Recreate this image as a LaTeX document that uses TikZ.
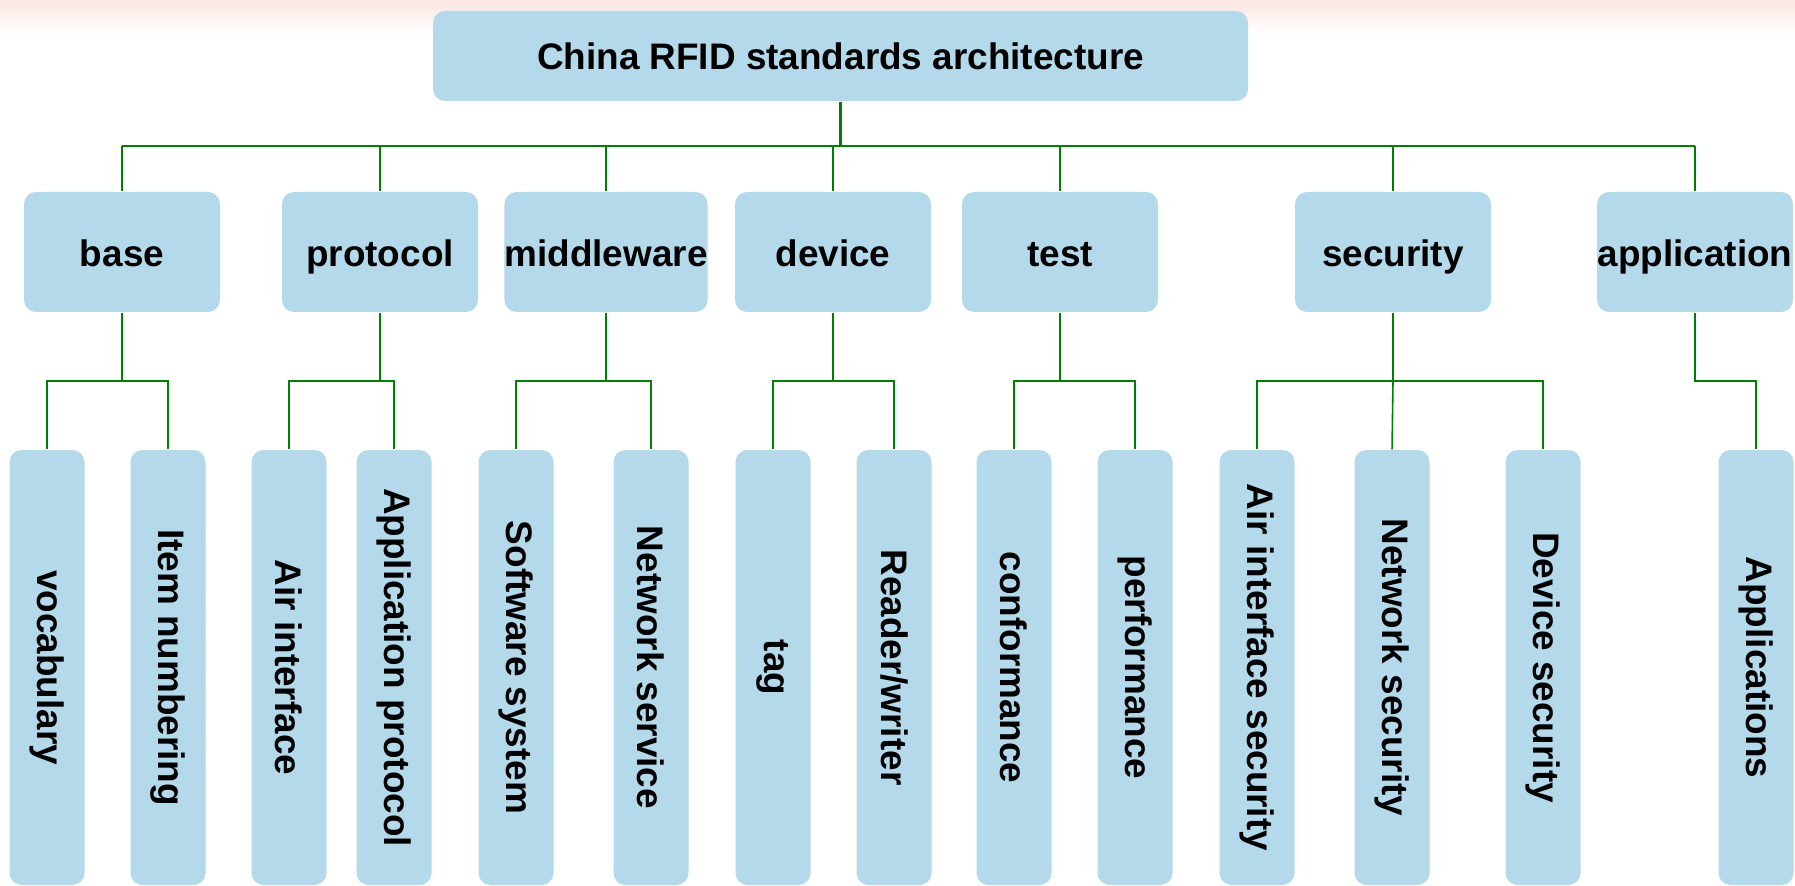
\documentclass[tikz,border=0pt]{standalone}
\usepackage{fontspec}
\usepackage{graphicx}
\setmainfont{Liberation Sans}
\definecolor{boxblue}{RGB}{179,217,234}
\definecolor{linkgreen}{RGB}{0,128,0}
\definecolor{topblush}{RGB}{251,230,226}
\tikzset{
  stdbox/.style={fill=boxblue, rounded corners=1.2mm, inner sep=0pt,
    font=\fontsize{10.5}{12}\selectfont\bfseries},
  rootbox/.style={stdbox, minimum width=81.5mm, minimum height=9mm},
  partbox/.style={stdbox, minimum width=19.6mm, minimum height=12mm,
    text height=0.95em, text depth=0.15em},
  leafbox/.style={stdbox, minimum width=7.5mm, minimum height=43.5mm},
  trunk/.style={draw=linkgreen, line width=0.6pt},
  link/.style={draw=linkgreen, line width=0.45pt}
}
\begin{document}
\begin{tikzpicture}[x=0.1mm,y=0.1mm]
\useasboundingbox (0,0) rectangle (1795,885);
\shade[top color=topblush, bottom color=white] (0,850) rectangle (1795,885);

\node[rootbox] (root) at (840.5,829) {China RFID standards architecture};

\node[partbox] (base) at (122,633) {base};
\node[partbox] (prot) at (380,633) {protocol};
\node[partbox] (midw) at (606,633) {middleware};
\node[partbox] (dev) at (833,633) {device};
\node[partbox] (test) at (1060,633) {test};
\node[partbox] (sec) at (1393,633) {security};
\node[partbox] (app) at (1695,633) {application};

\node[leafbox] (voc) at (47,217.5) {\rotatebox{-90}{vocabulary}};
\node[leafbox] (item) at (168,217.5) {\rotatebox{-90}{Item numbering}};
\node[leafbox] (air) at (289,217.5) {\rotatebox{-90}{Air interface}};
\node[leafbox] (approt) at (394,217.5) {\rotatebox{-90}{Application protocol}};
\node[leafbox] (soft) at (516,217.5) {\rotatebox{-90}{Software system}};
\node[leafbox] (netsrv) at (651,217.5) {\rotatebox{-90}{Network service}};
\node[leafbox] (tag) at (773,217.5) {\rotatebox{-90}{tag}};
\node[leafbox] (rw) at (894,217.5) {\rotatebox{-90}{Reader/writer}};
\node[leafbox] (conf) at (1014,217.5) {\rotatebox{-90}{conformance}};
\node[leafbox] (perf) at (1135,217.5) {\rotatebox{-90}{performance}};
\node[leafbox] (airsec) at (1257,217.5) {\rotatebox{-90}{Air interface security}};
\node[leafbox] (netsec) at (1392,217.5) {\rotatebox{-90}{Network security}};
\node[leafbox] (devsec) at (1543,217.5) {\rotatebox{-90}{Device security}};
\node[leafbox] (apps) at (1756,217.5) {\rotatebox{-90}{Applications}};

\coordinate (bus) at (0,739);
\coordinate (sub) at (0,504);

% top level
\path[trunk] (root.south) -- (root.south |- bus);
\path[trunk] (base.north |- bus) -- (app.north |- bus);
\path[link] (base.north |- bus) -- (base.north);
\path[link] (prot.north |- bus) -- (prot.north);
\path[link] (midw.north |- bus) -- (midw.north);
\path[link] (dev.north |- bus) -- (dev.north);
\path[link] (test.north |- bus) -- (test.north);
\path[link] (sec.north |- bus) -- (sec.north);
\path[link] (app.north |- bus) -- (app.north);

% second level
\path[link] (base.south) -- (base.south |- sub) -| (voc.north);
\path[link] (base.south |- sub) -| (item.north);
\path[link] (prot.south) -- (prot.south |- sub) -| (air.north);
\path[link] (prot.south |- sub) -| (approt.north);
\path[link] (midw.south) -- (midw.south |- sub) -| (soft.north);
\path[link] (midw.south |- sub) -| (netsrv.north);
\path[link] (dev.south) -- (dev.south |- sub) -| (tag.north);
\path[link] (dev.south |- sub) -| (rw.north);
\path[link] (test.south) -- (test.south |- sub) -| (conf.north);
\path[link] (test.south |- sub) -| (perf.north);
\path[link] (sec.south) -- (sec.south |- sub) -| (airsec.north);
\path[link] (sec.south |- sub) -- (netsec.north);
\path[link] (sec.south |- sub) -| (devsec.north);
\path[link] (app.south) -- (app.south |- sub) -| (apps.north);
\end{tikzpicture}
\end{document}
